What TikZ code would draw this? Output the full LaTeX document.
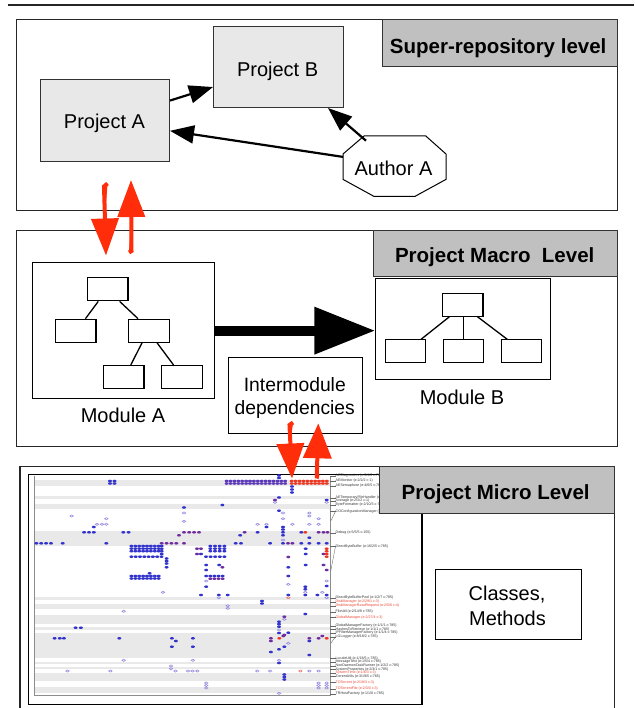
\documentclass[tikz,border=0pt]{standalone}
\usepackage{fontspec}
\setmainfont{Liberation Sans}
\usetikzlibrary{arrows.meta,calc}

\definecolor{boxgray}{RGB}{232,232,232}
\definecolor{tabgray}{RGB}{192,192,192}
\definecolor{redarrow}{RGB}{255,45,10}
\definecolor{dotB}{RGB}{50,50,205}
\definecolor{dotP}{RGB}{112,45,160}
\definecolor{dotM}{RGB}{92,55,185}
\definecolor{dotR}{RGB}{238,55,35}
\definecolor{dotH}{RGB}{150,140,225}
\definecolor{dotHR}{RGB}{235,120,110}
\definecolor{band}{RGB}{233,233,233}
\definecolor{labred}{RGB}{235,70,50}

% dot helpers for the class/method matrix
\newcommand\dotsB[1]{\foreach \x/\y in {#1} \fill[dotB] (\x,\y) ellipse (2pt and 1.3pt);}
\newcommand\dotsP[1]{\foreach \x/\y in {#1} \fill[dotP] (\x,\y) ellipse (2pt and 1.3pt);}
\newcommand\dotsR[1]{\foreach \x/\y in {#1} \fill[dotR] (\x,\y) ellipse (2pt and 1.3pt);}
\newcommand\dotsH[1]{\foreach \x/\y in {#1} \draw[dotH,line width=0.6pt] (\x,\y) ellipse (1.75pt and 1.1pt);}
\newcommand\dotsHR[1]{\foreach \x/\y in {#1} \draw[dotHR,line width=0.6pt] (\x,\y) ellipse (1.75pt and 1.1pt);}
\newcommand\runDots[5]{\foreach \i in {0,...,#4} \fill[#1] ({#2+\i*#3},#5) ellipse (2pt and 1.3pt);}
% class labels on the right of the matrix, with their leader ticks
\newcommand\classlab[4]{\node[rlab,text=#4] (#1) at (335.5,#2) {#3};
  \draw[leader] (#1.west) -- ++(-5.5,0);}

\begin{document}
\begin{tikzpicture}[x=1pt,y=-1pt,
  frame/.style={draw=black!85,line width=1.2pt,fill=white,anchor=north west,inner sep=0pt},
  tab/.style={draw=black!80,line width=1.3pt,fill=tabgray,anchor=north west,inner sep=0pt},
  proj/.style={draw=black!80,line width=1pt,fill=boxgray,anchor=north west,inner sep=0pt},
  plain/.style={draw=black,line width=1pt,fill=white,anchor=north west,inner sep=0pt},
  leaf/.style={draw=black,line width=1.1pt,fill=white,anchor=north west,inner sep=0pt,
    minimum width=40.4pt,minimum height=23pt},
  txt/.style={font=\fontsize{20}{24}\selectfont,text height=14.3pt,text depth=0pt,inner sep=0pt},
  smalltxt/.style={font=\fontsize{19.3}{23}\selectfont,text height=13.8pt,text depth=0pt,inner sep=0pt},
  tabtxt/.style={font=\fontsize{20.5}{24}\selectfont\bfseries,text height=14.7pt,text depth=0pt,inner sep=0pt},
  dep/.style={line width=2.2pt,draw=black,-{Triangle[length=24pt,width=18pt]}},
  treeedge/.style={line width=1.3pt,draw=black},
  redup/.style={draw=redarrow,fill=redarrow,line width=4pt},
  rlab/.style={anchor=west,inner sep=0pt,font=\fontsize{3.6}{4}\selectfont,text height=2.6pt,text depth=0.7pt},
  leader/.style={draw=black!60,line width=0.35pt}
]
\useasboundingbox (0,0) rectangle (634,708);
\clip (0,0) rectangle (634,708);

% rule across the top
\draw[line width=1.2pt,black!85] (7.5,5) -- (634,5);

% ---------------- the three level panels ----------------
\node[frame,minimum width=600.5pt,minimum height=191pt] (panelA) at (16.2,19) {};
\node[frame,minimum width=600.5pt,minimum height=216pt] (panelB) at (16.2,230) {};
\node[frame,minimum width=594.6pt,minimum height=270pt] (panelC) at (19.4,466) {};

% ---------------- super-repository level ----------------
\node[proj,minimum width=129.4pt,minimum height=81.4pt] (pa) at (39.6,79.3) {};
\node[txt] (paT) at (104.5,121.5) {Project A};
\node[proj,minimum width=130pt,minimum height=81pt] (pb) at (213,26) {};
\node[txt] (pbT) at (277.6,69.2) {Project B};

\node[anchor=north west,minimum width=102.6pt,minimum height=60pt,inner sep=0pt] (au) at (343,136) {};
\draw[line width=1pt,fill=white]
  ($(au.north west)+(21,0)$) -- ($(au.north east)+(-20.2,0)$) --
  ($(au.north east)+(0,18)$) -- ($(au.south east)+(0,-17)$) --
  ($(au.south east)+(-31.1,0)$) -- ($(au.south west)+(31,0)$) --
  ($(au.south west)+(0,-17)$) -- ($(au.north west)+(0,18)$) -- cycle;
\node[txt] (auT) at (393.5,168.3) {Author A};

\draw[dep] (pa.17) -- (pb.197.7);
\draw[dep] ($(au.west)+(0,-9.3)$) -- (pa.-9.4);
\draw[dep] ($(au.north west)+(23,4.7)$) -- ($(pb.south)+(49.5,0)$);

\node[tab,minimum width=235pt,minimum height=47pt] (tabA) at (381.7,19) {};
\node[tabtxt] (tabAT) at (498.2,45.8) {Super-repository level};

% ---------------- project macro level ----------------
\node[plain,minimum width=182.8pt,minimum height=136.3pt] (ma) at (31.5,262) {};
\node[leaf] (ta1) at (87,277.3) {};
\node[leaf] (ta2) at (55,318.7) {};
\node[leaf] (ta3) at (128.2,318.7) {};
\node[leaf] (ta4) at (103,365) {};
\node[leaf] (ta5) at (161.3,365) {};
\draw[treeedge] ($(ta1.south)+(-9.5,0)$) -- ($(ta2.north)+(9.7,0)$);
\draw[treeedge] ($(ta1.south)+(11.9,0)$) -- ($(ta3.north)+(-10.9,0)$);
\draw[treeedge] ($(ta3.south)+(-6.9,0)$) -- ($(ta4.north)+(7,0)$);
\draw[treeedge] ($(ta3.south)+(8.1,0)$) -- ($(ta5.north)+(-8.5,0)$);
\node[txt] (maT) at (123,415) {Module A};

\node[plain,minimum width=174.7pt,minimum height=100.7pt] (mb) at (375.3,278.3) {};
\node[leaf] (tb1) at (442,292.7) {};
\node[leaf] (tb2) at (384.6,339.3) {};
\node[leaf] (tb3) at (442.8,339.3) {};
\node[leaf] (tb4) at (500.6,339.3) {};
\draw[treeedge] ($(tb1.south)+(-13.4,0)$) -- ($(tb2.north)+(15.7,0)$);
\draw[treeedge] ($(tb1.south)+(0.8,0)$) -- (tb3.north);
\draw[treeedge] ($(tb1.south)+(14.8,0)$) -- ($(tb4.north)+(-14.1,0)$);
\node[txt] (mbT) at (462,397) {Module B};

\draw[line width=10pt,-{Triangle[length=61pt,width=45pt]}] (ma.east) -- (ma.east -| mb.west);

\node[plain,minimum width=134.3pt,minimum height=76.6pt] (inter) at (227.7,356.7) {};
\node[smalltxt] (interT1) at (294.8,385) {Intermodule};
\node[smalltxt] (interT2) at (294.8,407.3) {dependencies};

\node[tab,minimum width=243.7pt,minimum height=46pt] (tabB) at (373,230) {};
\node[tabtxt] (tabBT) at (494.7,255.3) {Project Macro~~Level};

% ---------------- project micro level: class/method matrix ----------------
\node[draw=black,line width=1.4pt,fill=white,anchor=north west,inner sep=0pt,
  minimum width=393.8pt,minimum height=230pt] (shot) at (27.5,474) {};
\foreach \a/\b in {480/485.5,496/499,503.5/509,531/545.5,596.5/600,604/608.5,614.5/624,
  626.5/629.5,632.5/657.5,661.5/664,666.5/668.8,673/681,687/692.5}
  \fill[band] (34.4,\a) rectangle (330,\b);
\draw[black!45,line width=0.7pt] (34.4,475.5) -- (34.4,695.5) -- (330,695.5) -- (330,475.5);

% dense runs and blocks
\foreach \r in {481,483.5} {\runDots{dotM}{226.6}{3.9}{15}{\r} \runDots{dotR}{291.7}{3.9}{9}{\r}}
\foreach \r in {546,548.6,551.2} {\runDots{dotB}{131.4}{3.9}{7}{\r} \runDots{dotB}{210.3}{4.7}{3}{\r}}
\runDots{dotB}{131.4}{4.3}{7}{556.7}
\runDots{dotB}{206}{4.6}{4}{556.7}
\foreach \r in {576,578.5} {\runDots{dotB}{131.4}{3.9}{7}{\r}}
\runDots{dotB}{206.2}{4.1}{4}{576}
\runDots{dotP}{210.3}{4.1}{3}{578.7}

\dotsB{279/475.5,279/478,110/481,114.5/481,110/483.5,114.5/483.5,292/486.5,292/489.5,292/492.5,
  279/497.5,326.7/500,222.4/505,184/507.5,279/510.7,93.8/527,266.5/527,283/527,283/529.5,
  84.1/532.3,89/532.3,93.8/532.3,123.3/532.3,128.6/532.3,257.6/532.3,283/532.3,301.3/532.3,
  240.2/535.3,283/535.3,309.3/537.7,36.4/543.3,41.2/543.3,46.1/543.3,51/543.3,62.7/543.3,
  106.3/543.3,235.7/543.3,241/543.3,270.1/543.3,283/543.3,301.3/543.3,309.3/543.3,318.6/543.3,
  326.7/543.3,305.7/548.7,305.7/554,161.7/546,161.7/548.7,161.7/551.3,161.7/554,201/554,
  166.6/558.5,166.6/561,166.6/563.5,206.2/565,219.2/565,305.7/565,288.3/567.3,166.6/567.3,206.2/570,
  149.6/573.3,288.3/576,305.3/586.7,305.3/589.3,326.7/586,206.2/586.7,
  201/595,218.8/595,227.7/595,288.3/595,305.3/595,317.4/595,326.7/595,262/601,262/603.5,
  305.3/614,279/621.7,279/624.2,279/626.7,75.6/627.7,80.9/627.7,279/633,288.3/632.7,
  54.6/638.3,59.8/638.3,63.9/638.3,119.3/638.3,171.9/638.3,192.9/638.3,175.9/641,309.3/641,
  171.9/646.7,192.9/646.7,284.3/646.7,279/649.3,270.9/652,309.3/655,279/663,
  284.3/674.5,284.3/677,284.3/679.5}
\dotsP{275/500,184/532.3,189.2/532.3,194.1/532.3,199/532.3,244.6/532.3,318.6/532.3,323.5/532.3,
  327.5/532.3,179/535.3,184/543.3,161.7/543.3,166.6/543.3,171.4/543.3,176.3/543.3,288/543.3,
  292.4/543.3,288.3/557,323.5/554,197/548.7,201/548.7,197/554,222.4/567.3,323.5/565,
  326.7/570,284.3/616.7,284.3/635,283.3/636,322.3/636,270.9/638.3,309.3/638.3,318.6/638.3,
  270.9/641}
\dotsR{305.3/532.3,326.7/548.7,326.7/551.3,326.7/554,326.7/556.7,279.3/638.3,326.7/638.3}
\dotsH{275/502.3,326.7/502.3,184/513,283/513,309.3/513,309.3/516,71.6/516,106.3/518.7,
  283/518.7,318.6/518.7,184/521.3,97/524.3,102/524.3,106.3/524.3,257.6/524.3,266.5/524.3,
  292.4/524.3,309.3/524.3,318.6/524.3,283/540,206.2/581,326.7/581,288.3/584.3,163/592.3,
  305.3/592.3,322.3/592.3,218.8/597.7,326.7/597.7,227.7/605.7,227.7/608.3,123.7/611.3,
  284.3/619.3,279/630,288.3/643.3,123.7/660.3,192.9/660.3,279/660.3,171/666,171/668.7,
  67.5/671,110.4/671,175.5/671,188/671,192.5/671,197.3/671,257.2/671,270.1/671,309.3/671,
  318.6/671,206.2/683,206.2/685.5,206.2/688,318.6/683,318.6/685.5,318.6/688,326.7/683,
  326.7/685.5,326.7/688,279/693.3}
\dotsHR{288.3/597.7,300.4/671}

% class names beside the matrix
\classlab{rl1}{475.7}{AEDiagnostics (e:0/4/0 c:785)}{black!80}
\classlab{rl2}{480.7}{AEMonitor (e:2/2/2 c:1)}{black!80}
\classlab{rl3}{486}{AESemaphore (e:4/6/5 c:785)}{black!80}
\classlab{rl4}{497.7}{AETemporaryFileHandler (e:1/2/1 c:785)}{black!80}
\classlab{rl5}{501}{Average (e:2/3/2 c:1)}{black!80}
\classlab{rl6}{505}{ByteFormatter (e:2/10/3 c:785)}{black!80}
\classlab{rl7}{511.3}{COConfigurationManager (e:2/9/4 c:785)}{black!80}
\classlab{rl8}{532.7}{Debug (e:5/5/5 c:155)}{black!80}
\classlab{rl9}{546.3}{DirectByteBuffer (e:16/2/5 c:785)}{black!80}
\classlab{rl10}{597.7}{DirectByteBufferPool (e:1/2/7 c:785)}{black!80}
\classlab{rl11}{601.7}{DiskManager (e:2/29/1 c:3)}{labred}
\classlab{rl12}{606}{DiskManagerReadRequest (e:2/5/6 c:4)}{labred}
\classlab{rl13}{611.7}{FileUtil (e:2/14/9 c:785)}{black!80}
\classlab{rl14}{617.3}{GlobalManager (e:2/27/4 c:3)}{labred}
\classlab{rl15}{625.7}{GlobalManagerFactory (e:1/1/1 c:785)}{black!80}
\classlab{rl16}{629.3}{HashesToRetrieve (e:1/1/1 c:785)}{black!80}
\classlab{rl17}{633}{IPFilterManagerFactory (e:1/1/4 c:785)}{black!80}
\classlab{rl18}{636.7}{LGLogger (e:8/18/2 c:785)}{black!80}
\classlab{rl19}{658.3}{LocaleUtil (e:1/18/5 c:785)}{black!80}
\classlab{rl20}{662}{MessageText (e:1/5/4 c:785)}{black!80}
\classlab{rl21}{665.7}{NonDaemonTaskRunner (e:1/2/2 c:785)}{black!80}
\classlab{rl22}{669.3}{SystemProperties (e:2/3/1 c:785)}{black!80}
\classlab{rl23}{672.7}{SystemTime (e:1/6/3 c:3)}{labred}
\classlab{rl24}{676.3}{TorrentUtils (e:3/19/5 c:785)}{black!80}
\classlab{rl25}{682.3}{TOTorrent (e:2/18/3 c:3)}{labred}
\classlab{rl26}{688.7}{TOTorrentFile (e:2/3/0 c:3)}{labred}
\classlab{rl27}{694}{TRHostFactory (e:1/1/0 c:785)}{black!80}
\draw[leader] (rl7.west) -- (330.8,521);
\draw[leader] (rl9.west) -- (330.8,570.7);
\draw[leader] (rl18.west) -- (330.8,643.3);

\node[draw=black,line width=1.2pt,fill=white,anchor=north west,inner sep=0pt,
  minimum width=146.3pt,minimum height=70pt] (cm) at (434.7,569) {};
\node[txt] (cmT1) at (507,593.7) {Classes,};
\node[txt] (cmT2) at (507.5,618.7) {Methods};

\node[tab,minimum width=234.8pt,minimum height=47pt] (tabC) at (379,466) {};
\node[tabtxt] (tabCT) at (495.7,491.8) {Project Micro Level};

% ---------------- links between levels ----------------
\coordinate (dnA0) at (107.5,183.5);
\coordinate (dnA1) at (104,186.5);
\coordinate (dnA2) at (106,255.5);
\coordinate (upA0) at (129,252.5);
\coordinate (upA1) at (131.5,251);
\coordinate (upA2) at (131,180);
\coordinate (dnB0) at (293,422.5);
\coordinate (dnB1) at (289.5,425);
\coordinate (dnB2) at (292,478.5);
\coordinate (upB0) at (319,477);
\coordinate (upB1) at (316.8,476.5);
\coordinate (upB2) at (318.3,423.3);
\draw[redup,-{Triangle[length=37pt,width=27pt]}] (dnA0) -- (dnA1) -- (dnA2);
\draw[redup,-{Triangle[length=37pt,width=27pt]}] (upA0) -- (upA1) -- (upA2);
\draw[redup,-{Triangle[length=35pt,width=27pt]}] (dnB0) -- (dnB1) -- (dnB2);
\draw[redup,-{Triangle[length=35pt,width=28pt]}] (upB0) -- (upB1) -- (upB2);
\end{tikzpicture}
\end{document}
